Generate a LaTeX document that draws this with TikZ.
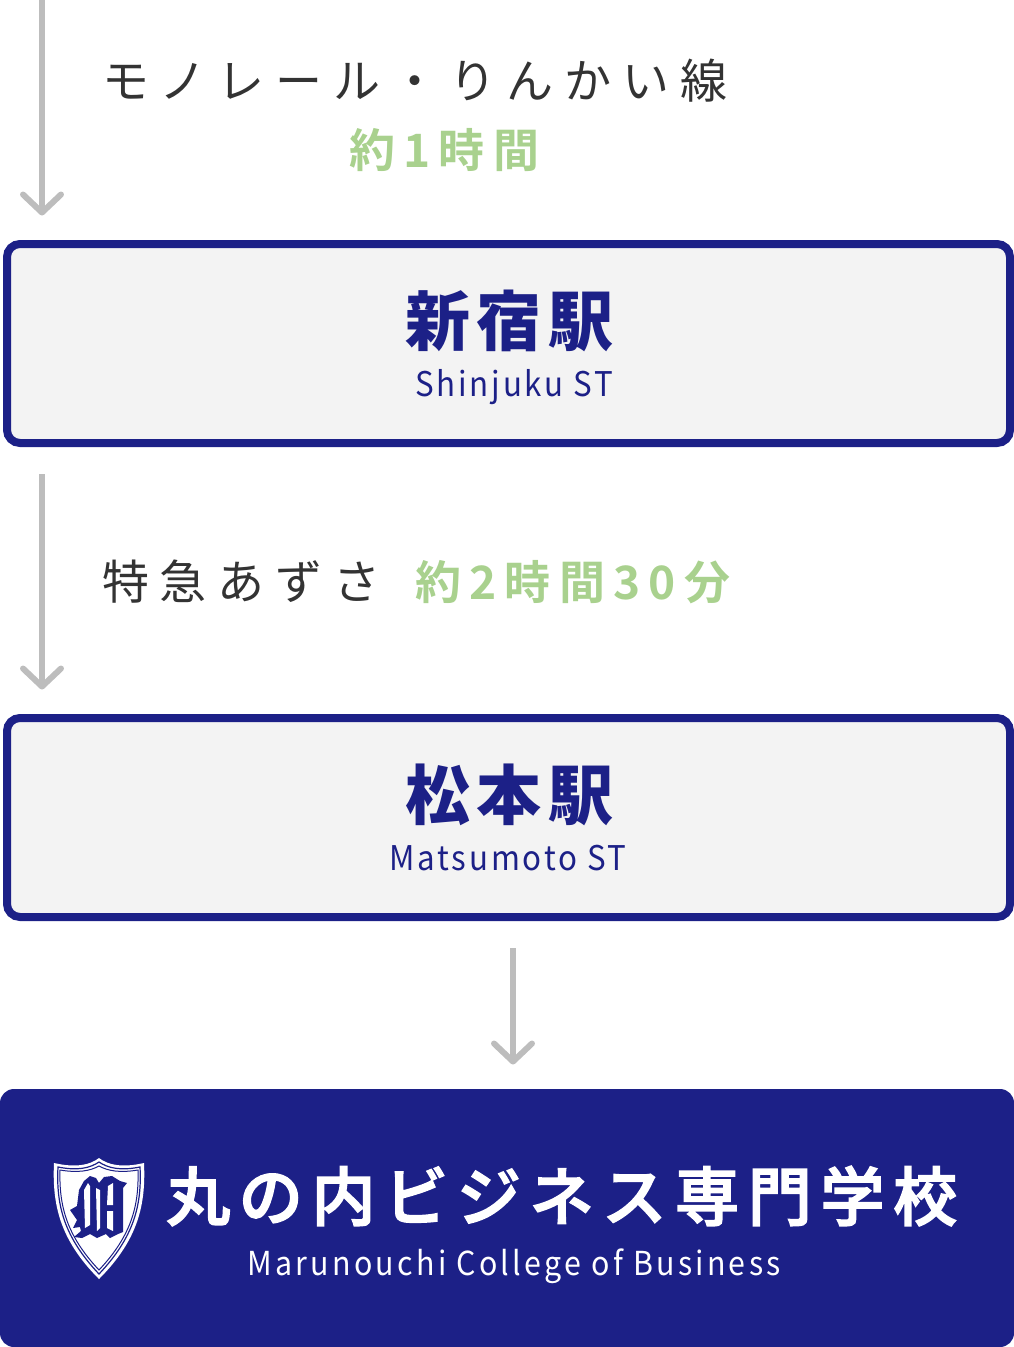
\documentclass[tikz,border=0pt]{standalone}
\usepackage{fontspec}
\usetikzlibrary{arrows.meta}
\setmainfont{Noto Sans CJK JP}
\newfontfamily\jpbody[LetterSpace=23]{Noto Sans CJK JP}
\newfontfamily\jpgreen[LetterSpace=18,BoldFont={Noto Sans CJK JP Bold}]{Noto Sans CJK JP}
\newfontfamily\jpstation[LetterSpace=10]{Noto Sans CJK JP}
\newfontfamily\jpschool[LetterSpace=13.6,FakeBold=2.5]{Noto Sans CJK JP Medium}
\newfontfamily\latinst[LetterSpace=8.3,FakeStretch=0.92]{Noto Sans CJK JP}
\newfontfamily\latinsc[LetterSpace=10,FakeStretch=0.92]{Noto Sans CJK JP}
\definecolor{navy}{HTML}{1C2087}
\definecolor{greylight}{HTML}{F3F3F3}
\definecolor{arrowgrey}{HTML}{BDBDBD}
\definecolor{leaf}{HTML}{A9D18E}
\definecolor{inkdark}{HTML}{333333}
\tikzset{
  stationbox/.style={draw=navy,line width=8pt,fill=greylight,rounded corners=13pt,minimum width=1003pt,minimum height=199pt,inner sep=0pt},
  schoolbox/.style={fill=navy,rounded corners=14pt,minimum width=1014pt,minimum height=258pt,inner sep=0pt},
  flowarrow/.style={draw=arrowgrey,line width=6pt,-{Straight Barb[length=18pt,width=38pt,line width=6pt,round]}},
  routetext/.style={inner sep=0pt,text=inkdark,font=\fontsize{47}{50}\selectfont\jpbody},
  timetext/.style={inner sep=0pt,text=leaf,font=\fontsize{46}{50}\selectfont\jpgreen\bfseries},
  stationtext/.style={inner sep=0pt,text=navy,font=\fontsize{65}{70}\selectfont\jpstation\bfseries},
  sttext/.style={inner sep=0pt,text=navy,font=\fontsize{34}{38}\selectfont\latinst},
  schooltext/.style={inner sep=0pt,text=white,font=\fontsize{64}{70}\selectfont\jpschool},
  schoolsub/.style={inner sep=0pt,text=white,font=\fontsize{33}{38}\selectfont\latinsc},
}
\begin{document}
\begin{tikzpicture}[x=1pt,y=-1pt]
\useasboundingbox (0,0) rectangle (1014,1347);
\node[stationbox] (shinjuku) at (508.5,343.5) {};
\node[stationbox] (matsumoto) at (508.5,817.5) {};
\node[schoolbox] (school) at (507,1218) {};
\coordinate (a1s) at (42,0);
\coordinate (a1e) at (42,215.5);
\coordinate (a2s) at (42,474);
\coordinate (a2e) at (42,689.5);
\coordinate (a3s) at (513,948);
\coordinate (a3e) at (513,1064.5);
\draw[flowarrow] (a1s) -- (a1e);
\draw[flowarrow] (a2s) -- (a2e);
\draw[flowarrow] (a3s) -- (a3e);
\node[routetext,anchor=west] (route1) at (102,81) {モノレール・りんかい線};
\node[timetext,anchor=west] (time1) at (349,150) {約1時間};
\node[routetext,anchor=west] (route2) at (102,582) {特急あずさ};
\node[timetext,anchor=west] (time2) at (415,582) {約2時間30分};
\node[stationtext] (name1) at (509,321) {新宿駅};
\node[sttext] (sub1) at (514,387) {Shinjuku ST};
\node[stationtext] (name2) at (509,795) {松本駅};
\node[sttext] (sub2) at (508,858) {Matsumoto ST};
\node[schooltext,anchor=west] (name3) at (166,1196) {丸の内ビジネス専門学校};
\node[schoolsub] (sub3) at (514,1266) {Marunouchi College of Business};
% shield emblem
\path[fill=white] (54,1163) .. controls (76,1168) and (90,1165) .. (99,1158) .. controls (108,1165) and (122,1168) .. (144,1163) .. controls (146,1205) and (138,1240) .. (99,1279) .. controls (60,1240) and (52,1205) .. (54,1163) -- cycle;
\path[draw=navy,line width=1.2pt] (58,1167) .. controls (78,1171) and (90,1168) .. (99,1162) .. controls (108,1168) and (120,1171) .. (140,1167) .. controls (142,1205) and (134,1237) .. (99,1274) .. controls (64,1237) and (56,1205) .. (58,1167) -- cycle;
\path[draw=navy,line width=1pt] (60,1170) .. controls (78,1173) and (90,1171) .. (99,1166) .. controls (108,1171) and (120,1173) .. (138,1170) .. controls (139,1205) and (132,1235) .. (99,1270) .. controls (66,1235) and (59,1205) .. (60,1170) -- cycle;
\path[fill=navy] (70,1210) -- (77,1206) -- (79,1190) -- (84,1181) -- (90,1176) -- (96,1178) -- (99,1183) -- (104,1177) -- (112,1176) -- (120,1181) -- (127,1183) -- (123,1188) -- (123,1232) -- (118,1234) -- (110,1238) -- (106,1234) -- (97,1238) -- (90,1234) -- (82,1238) -- (74,1237) -- (81,1231) -- (80,1227) -- (73,1228) -- (77,1220) -- cycle;
\path[fill=white] (84,1190) -- (88,1183) -- (90,1186) -- (90,1225) -- (85,1228) -- cycle (96,1188) -- (100,1190) -- (100,1228) -- (97,1231) -- cycle (108,1186) -- (113,1183) -- (113,1205) -- (107,1205) -- cycle (107,1211) -- (113,1211) -- (113,1231) -- (107,1228) -- cycle;
\end{tikzpicture}
\end{document}
